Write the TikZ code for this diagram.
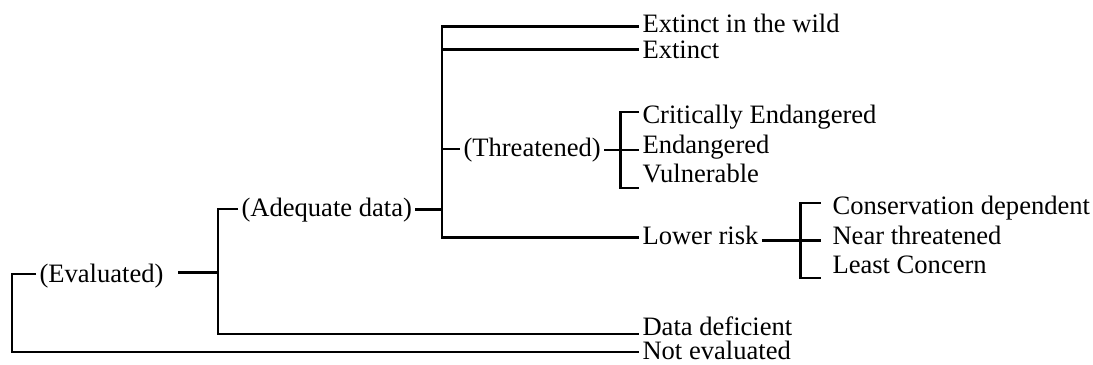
\documentclass[tikz,border=0pt]{standalone}
\usepackage{fontspec}
\setmainfont{Liberation Serif}
\usepackage{tikz}

\tikzset{lbl/.style={anchor=base west, inner sep=0pt, outer xsep=2.5pt, font=\fontsize{18.9}{23}\selectfont}}

\begin{document}
\begin{tikzpicture}[x=0.025cm, y=-0.025cm, line width=1.5pt]
\useasboundingbox (0,0) rectangle (1093,365);
% labels
\node[lbl] (eval) at (36,283) {(Evaluated)};
\node[lbl] (adeq) at (238,216.5) {(Adequate data)};
\node[lbl] (thr) at (460,157) {(Threatened)};
\node[lbl] (ew) at (639,33) {Extinct in the wild};
\node[lbl] (ex) at (639,58.5) {Extinct};
\node[lbl] (cr) at (639,124) {Critically Endangered};
\node[lbl] (en) at (639,154) {Endangered};
\node[lbl] (vu) at (639,183) {Vulnerable};
\node[lbl] (lr) at (639,245) {Lower risk};
\node[lbl] (cd) at (829,215) {Conservation dependent};
\node[lbl] (nt) at (829,245) {Near threatened};
\node[lbl] (lc) at (829,274) {Least Concern};
\node[lbl] (dd) at (639,336) {Data deficient};
\node[lbl] (ne) at (639,360) {Not evaluated};
% bracket corners
\coordinate (t0) at (12,274);
\coordinate (b0) at (12,352);
\coordinate (t1) at (218,209);
\coordinate (m1) at (218,272.5);
\coordinate (b1) at (218,334);
\coordinate (t2) at (442,26.5);
\coordinate (e2) at (442,49.5);
\coordinate (h2) at (442,149);
\coordinate (j2) at (442,209.5);
\coordinate (b2) at (442,237.5);
\coordinate (t3) at (620.5,112);
\coordinate (m3) at (620.5,150);
\coordinate (b3) at (620.5,188);
\coordinate (t4) at (800.5,203);
\coordinate (m4) at (800.5,240.5);
\coordinate (b4) at (800.5,278);
% all species
\draw (eval.west |- t0) -- (t0) -- (b0) -- (ne.west |- b0);
% evaluated
\draw[shorten >=8pt] (m1) -- (eval.east |- m1);
\draw (adeq.west |- t1) -- (t1) -- (b1) -- (dd.west |- b1);
% adequate data
\draw (adeq.east |- j2) -- (j2);
\draw (ew.west |- t2) -- (t2) -- (b2) -- (lr.west |- b2);
\draw (e2) -- (ex.west |- e2);
\draw (h2) -- (thr.west |- h2);
% threatened
\draw (cr.west |- t3) -- (t3) -- (b3) -- (vu.west |- b3);
\draw (thr.east |- m3) -- (en.west |- m3);
% lower risk
\draw[shorten <=6pt, shorten >=6pt] (cd.west |- t4) -- (t4) -- (b4) -- (lc.west |- b4);
\draw[shorten >=6pt] (lr.east |- m4) -- (nt.west |- m4);
\end{tikzpicture}
\end{document}
